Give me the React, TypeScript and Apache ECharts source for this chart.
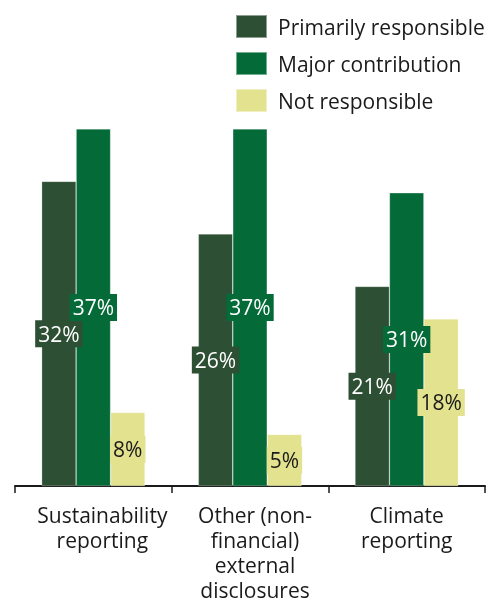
import React, { useEffect, useRef } from "react";
import * as echarts from "echarts";

const categories = [
  "Sustainability\nreporting",
  "Other (non-\nfinancial)\nexternal\ndisclosures",
  "Climate\nreporting",
];
// Values; labels show them rounded to whole percent
const primarilyResponsible = [31.9, 26.4, 20.9];
const majorContribution = [37.4, 37.4, 30.7];
const notResponsible = [7.7, 5.4, 17.5];

const seriesNames = ["Primarily responsible", "Major contribution", "Not responsible"];
const colors = ["#2d4f33", "#046a38", "#e3e28f"];
const labelColors = ["#ffffff", "#ffffff", "#1a1a1a"];

const labelBase = { fontSize: 21, lineHeight: 25, color: "#1a1a1a", fontFamily: "Open Sans" };

export default function App() {
  const ref = useRef<HTMLDivElement>(null);
  useEffect(() => {
    if (!ref.current) return;
    const chart = echarts.init(ref.current, undefined, { renderer: "svg" });
    const datasets = [primarilyResponsible, majorContribution, notResponsible];
    chart.setOption({
      animation: false,
      textStyle: { fontFamily: "Open Sans" },
      legend: {
        orient: "vertical",
        left: 235,
        top: 14,
        padding: 0,
        itemWidth: 31,
        itemHeight: 23,
        itemGap: 12,
        icon: "rect",
        textStyle: {
          fontSize: 21,
          lineHeight: 23,
          color: "#1a1a1a",
          fontFamily: "Open Sans",
          padding: [0, 0, 0, 6],
        },
        data: seriesNames,
      },
      grid: { left: 15, right: 18, top: 104, bottom: 112, containLabel: false },
      xAxis: {
        type: "category",
        data: categories,
        axisLine: { lineStyle: { color: "#1a1a1a", width: 2 } },
        axisTick: { show: true, length: 7, lineStyle: { color: "#1a1a1a", width: 1.5 } },
        axisLabel: {
          interval: 0,
          ...labelBase,
          margin: 16,
          formatter: (value: string, index: number) =>
            value
              .split("\n")
              .map((l) => `{s${index}|${l}}`)
              .join("\n"),
          rich: {
            s0: { ...labelBase, padding: [0, 0, 0, 18] },
            s1: { ...labelBase, padding: [0, 0, 0, 10] },
            s2: { ...labelBase },
          },
        },
      },
      yAxis: { type: "value", min: 0, max: 40, show: false },
      series: datasets.map((d, i) => ({
        name: seriesNames[i],
        type: "bar",
        data: d,
        barGap: "0%",
        barCategoryGap: "34%",
        itemStyle: { color: colors[i], borderColor: "rgba(255,255,255,0.45)", borderWidth: 0.6 },
        label: {
          show: true,
          position: "inside",
          formatter: (p: any) => Math.round(p.value) + "%",
          fontSize: 21,
          lineHeight: 23,
          fontFamily: "Open Sans",
          color: labelColors[i],
          backgroundColor: colors[i],
          padding: [2, 3, 2, 3],
        },
      })),
    });
    return () => chart.dispose();
  }, []);
  return (
    <div
      ref={ref}
      style={{ position: "fixed", left: 0, top: 0, width: 503, height: 602 }}
    />
  );
}
